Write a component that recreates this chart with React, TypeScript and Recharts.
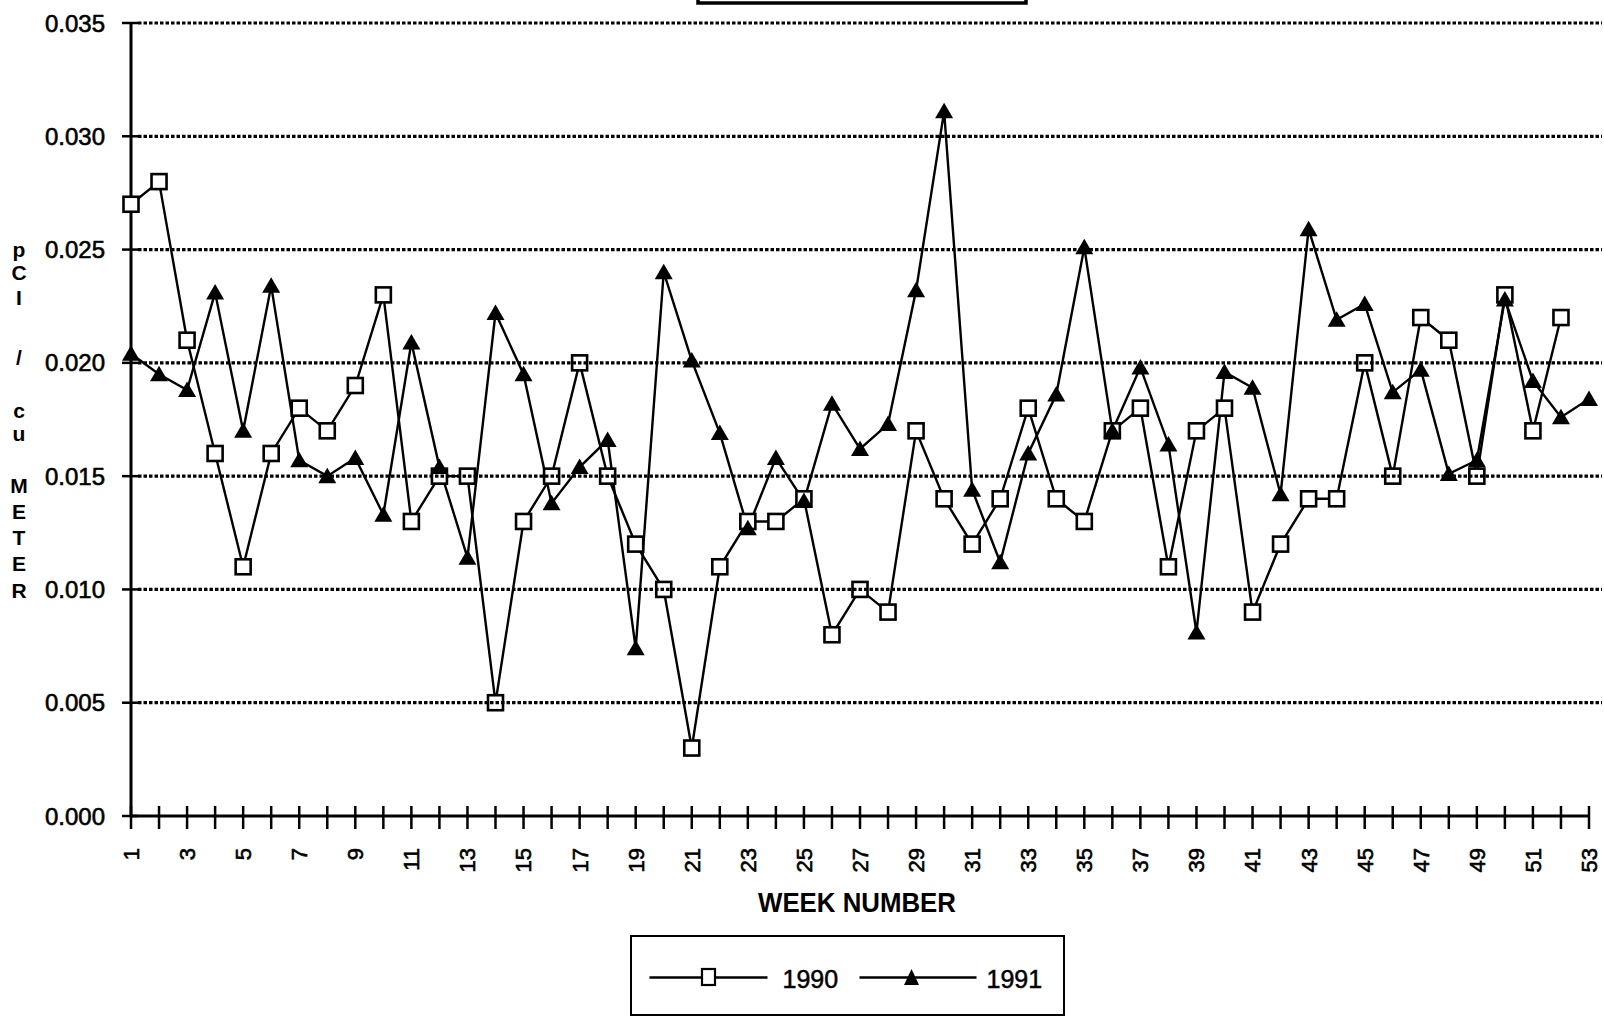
import React from 'react';
import { LineChart, Line, XAxis, YAxis, Legend } from 'recharts';

const WEEKS = [
  1, 2, 3, 4, 5, 6, 7, 8, 9, 10, 11, 12, 13, 14, 15, 16, 17, 18, 19, 20,
  21, 22, 23, 24, 25, 26, 27, 28, 29, 30, 31, 32, 33, 34, 35, 36, 37, 38, 39, 40,
  41, 42, 43, 44, 45, 46, 47, 48, 49, 50, 51, 52, 53,
];

const PCI_1990 = [
  0.027, 0.028, 0.021, 0.016, 0.011, 0.016, 0.018, 0.017, 0.019, 0.023,
  0.013, 0.015, 0.015, 0.005, 0.013, 0.015, 0.020, 0.015, 0.012, 0.010,
  0.003, 0.011, 0.013, 0.013, 0.014, 0.008, 0.010, 0.009, 0.017, 0.014,
  0.012, 0.014, 0.018, 0.014, 0.013, 0.017, 0.018, 0.011, 0.017, 0.018,
  0.009, 0.012, 0.014, 0.014, 0.020, 0.015, 0.022, 0.021, 0.015, 0.023,
  0.017, 0.022, null,
];

const PCI_1991 = [
  0.0204, 0.0195, 0.0188, 0.0231, 0.0170, 0.0234, 0.0157, 0.0150, 0.0158, 0.0133,
  0.0209, 0.0154, 0.0114, 0.0222, 0.0195, 0.0138, 0.0154, 0.0166, 0.0074, 0.0240,
  0.0201, 0.0169, 0.0127, 0.0158, 0.0139, 0.0182, 0.0162, 0.0173, 0.0232, 0.0311,
  0.0144, 0.0112, 0.0160, 0.0186, 0.0251, 0.0170, 0.0198, 0.0164, 0.0081, 0.0196,
  0.0189, 0.0142, 0.0259, 0.0219, 0.0226, 0.0187, 0.0197, 0.0151, 0.0157, 0.0228,
  0.0192, 0.0176, 0.0184,
];

const Y_TICKS = [0, 0.005, 0.01, 0.015, 0.02, 0.025, 0.03, 0.035];
const SERIES_NAMES = ['1990', '1991'];
const Y_TITLE_CHARS = ['p', 'C', 'I', '/', 'c', 'u', 'M', 'E', 'T', 'E', 'R'];
const Y_TITLE_POS = [249, 272, 297, 357, 410, 433, 485, 511, 537, 563, 590];
const X_TITLE = 'WEEK NUMBER';

const FONT = '"Liberation Sans", Arial, Helvetica, sans-serif';

const data = WEEKS.map((w, i) => ({
  week: w,
  y1990: PCI_1990[i] ?? null,
  y1991: PCI_1991[i] ?? null,
}));

function YTick(props: any) {
  const { x, y, payload } = props;
  const v = payload.value as number;
  return (
    <g>
      {v > 0 && (
        <line x1={x + 7} x2={1602} y1={y} y2={y} stroke="#000" strokeWidth={3.2} strokeDasharray="3.5 2" />
      )}
      <line x1={x - 9} x2={x + 7} y1={y} y2={y} stroke="#000" strokeWidth={2.5} />
      <text
        x={x - 26}
        y={y}
        dy="0.36em"
        textAnchor="end"
        fontSize={24}
        fontFamily={FONT}
        fill="#000"
        stroke="#000"
        strokeWidth={0.6}
      >
        {v.toFixed(3)}
      </text>
    </g>
  );
}

function XTick(props: any) {
  const { x, y, payload } = props;
  const w = payload.value as number;
  return (
    <g>
      <line x1={x} x2={x} y1={y - 10} y2={y + 13} stroke="#000" strokeWidth={2.5} />
      {w % 2 === 1 && (
        <text
          transform={`translate(${x},${y + 32}) rotate(-90)`}
          textAnchor="end"
          dy="0.36em"
          fontSize={22}
          fontFamily={FONT}
          fill="#000"
          stroke="#000"
          strokeWidth={0.6}
        >
          {w}
        </text>
      )}
    </g>
  );
}

const SquareDot = (props: any) => {
  const { cx, cy, index, payload } = props;
  if (cx == null || cy == null || payload == null || payload.y1990 == null) return <g key={`s${index}`} />;
  return (
    <rect key={`s${index}`} x={cx - 7.5} y={cy - 7.5} width={15} height={15} fill="#fff" stroke="#000" strokeWidth={2.6} />
  );
};

const TriangleDot = (props: any) => {
  const { cx, cy, index, payload } = props;
  if (cx == null || cy == null || payload == null || payload.y1991 == null) return <g key={`t${index}`} />;
  return (
    <path key={`t${index}`} d={`M${cx},${cy - 8.5} L${cx + 9},${cy + 7} L${cx - 9},${cy + 7} Z`} fill="#000" />
  );
};

const renderLegend = () => (
  <div
    style={{
      width: 435,
      height: 81,
      border: '2.5px solid #000',
      boxSizing: 'border-box',
      background: '#fff',
    }}
  >
    <svg width={430} height={76} style={{ display: 'block' }}>
      <line x1={17.5} x2={135.5} y1={40.5} y2={40.5} stroke="#000" strokeWidth={2.4} />
      <rect x={70} y={32} width={13} height={16} fill="#fff" stroke="#000" strokeWidth={2.2} />
      <text x={150.5} y={41.5} dy="0.36em" fontSize={25} fontFamily={FONT} fill="#000" stroke="#000" strokeWidth={0.5}>
        {SERIES_NAMES[0]}
      </text>
      <line x1={227.5} x2={344.5} y1={40.5} y2={40.5} stroke="#000" strokeWidth={2.4} />
      <path d="M279.5,32 L287,48 L272,48 Z" fill="#000" />
      <text x={354.5} y={41.5} dy="0.36em" fontSize={25} fontFamily={FONT} fill="#000" stroke="#000" strokeWidth={0.5}>
        {SERIES_NAMES[1]}
      </text>
    </svg>
  </div>
);

export default function App() {
  return (
    <div style={{ position: 'absolute', left: 0, top: 0, width: 1604, height: 1016, background: '#fff', overflow: 'hidden' }}>
      <LineChart width={1604} height={1016} data={data} margin={{ top: 23, right: 15, bottom: 0, left: 0 }}>
        <YAxis
          type="number"
          domain={[0, 0.035]}
          ticks={Y_TICKS}
          interval={0}
          width={131}
          tickSize={0}
          tickMargin={0}
          axisLine={{ stroke: '#000', strokeWidth: 3 }}
          tickLine={false}
          tick={<YTick />}
        />
        <XAxis
          type="number"
          dataKey="week"
          domain={[1, 53]}
          ticks={WEEKS}
          interval={0}
          height={200}
          tickSize={0}
          tickMargin={0}
          axisLine={{ stroke: '#000', strokeWidth: 3.2 }}
          tickLine={false}
          tick={<XTick />}
        />
        <Legend
          layout="horizontal"
          verticalAlign="middle"
          align="center"
          content={renderLegend}
          wrapperStyle={{ position: 'absolute', left: 630, top: 935, width: 435, height: 81, margin: 0, padding: 0 }}
        />
        <Line
          type="linear"
          dataKey="y1990"
          name={SERIES_NAMES[0]}
          stroke="#000"
          strokeWidth={2.4}
          dot={SquareDot}
          activeDot={false}
          isAnimationActive={false}
          connectNulls={false}
        />
        <Line
          type="linear"
          dataKey="y1991"
          name={SERIES_NAMES[1]}
          stroke="#000"
          strokeWidth={2.4}
          dot={TriangleDot}
          activeDot={false}
          isAnimationActive={false}
        />
      </LineChart>
      <svg
        width={1604}
        height={1016}
        style={{ position: 'absolute', left: 0, top: 0, pointerEvents: 'none' }}
      >
        <rect x={698} y={-12} width={328} height={15} fill="none" stroke="#000" strokeWidth={3.5} />
        {Y_TITLE_CHARS.map((c, i) => (
          <text
            key={i}
            x={19}
            y={Y_TITLE_POS[i]}
            dy="0.36em"
            textAnchor="middle"
            fontSize={21}
            fontWeight="bold"
            fontFamily={FONT}
            fill="#000"
          >
            {c}
          </text>
        ))}
        <text
          x={857}
          y={902}
          dy="0.36em"
          textAnchor="middle"
          fontSize={28}
          fontWeight="bold"
          fontFamily={FONT}
          fill="#000"
          textLength={198}
          lengthAdjust="spacingAndGlyphs"
        >
          {X_TITLE}
        </text>
      </svg>
    </div>
  );
}
